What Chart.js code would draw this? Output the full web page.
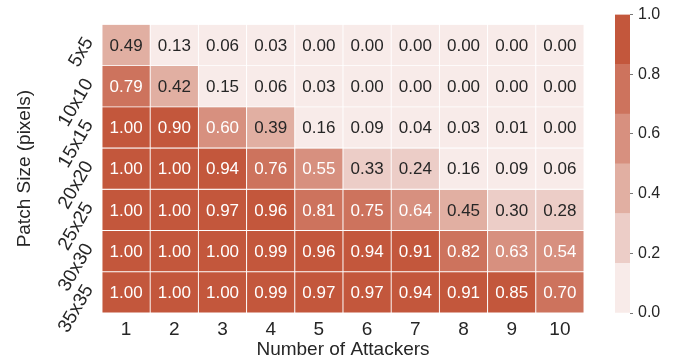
<!DOCTYPE html>
<html>
<head>
<meta charset="utf-8">
<script src="https://cdn.jsdelivr.net/npm/chart.js@4/dist/chart.umd.min.js"></script>
<style>
  html, body { margin: 0; padding: 0; background: #fff; }
  #wrap { position: relative; width: 680px; height: 362px; overflow: hidden; }
  #heat { position: absolute; left: 0; top: 0; }
  #cbar { position: absolute; left: 600px; top: 0; }
</style>
</head>
<body>
<div id="wrap">
  <canvas id="heat" width="600" height="362"></canvas>
  <canvas id="cbar" width="80" height="362"></canvas>
</div>
<script>
// Attack success rate by patch size (rows) and number of attackers (columns)
const attackers = ['1', '2', '3', '4', '5', '6', '7', '8', '9', '10'];
const patchSizes = ['5x5', '10x10', '15x15', '20x20', '25x25', '30x30', '35x35'];

const rate5x5   = [0.49, 0.13, 0.06, 0.03, 0.00, 0.00, 0.00, 0.00, 0.00, 0.00];
const rate10x10 = [0.79, 0.42, 0.15, 0.06, 0.03, 0.00, 0.00, 0.00, 0.00, 0.00];
const rate15x15 = [1.00, 0.90, 0.60, 0.39, 0.16, 0.09, 0.04, 0.03, 0.01, 0.00];
const rate20x20 = [1.00, 1.00, 0.94, 0.76, 0.55, 0.33, 0.24, 0.16, 0.09, 0.06];
const rate25x25 = [1.00, 1.00, 0.97, 0.96, 0.81, 0.75, 0.64, 0.45, 0.30, 0.28];
const rate30x30 = [1.00, 1.00, 1.00, 0.99, 0.96, 0.94, 0.91, 0.82, 0.63, 0.54];
const rate35x35 = [1.00, 1.00, 1.00, 0.99, 0.97, 0.97, 0.94, 0.91, 0.85, 0.70];

const rows = [rate5x5, rate10x10, rate15x15, rate20x20, rate25x25, rate30x30, rate35x35];

const colorbarTicks = [0.0, 0.2, 0.4, 0.6, 0.8, 1.0];

// Six-step sequential palette (light to dark)
const palette = ['#F8EBE9', '#ECCDC7', '#E1AFA2', '#D7907F', '#CD735D', '#C3573C'];
const nBins = palette.length;
const binOf = v => Math.min(nBins - 1, Math.floor(v * nBins));

const FONT = '"Liberation Sans", Arial, sans-serif';
const TEXT = '#262626';

// Writes each cell's value at the centre of its bar
const cellLabels = {
  id: 'cellLabels',
  afterDatasetsDraw(chart) {
    const ctx = chart.ctx;
    ctx.save();
    ctx.font = '17px ' + FONT;
    ctx.textAlign = 'center';
    ctx.textBaseline = 'middle';
    chart.data.datasets.forEach((ds, di) => {
      const meta = chart.getDatasetMeta(di);
      meta.data.forEach((el, ci) => {
        const v = ds.values[ci];
        ctx.fillStyle = binOf(v) >= 3 ? '#ffffff' : TEXT;
        ctx.fillText(v.toFixed(2), el.x, (el.y + el.base) / 2 + 1);
      });
    });
    ctx.restore();
  }
};

new Chart(document.getElementById('heat'), {
  type: 'bar',
  data: {
    labels: attackers,
    datasets: rows.map((vals, r) => ({
      label: patchSizes[r],
      values: vals,
      data: vals.map(() => [r, r + 1]),
      backgroundColor: vals.map(v => palette[binOf(v)]),
      borderColor: '#ffffff',
      borderWidth: 0.8,
      borderSkipped: false,
      barPercentage: 1,
      categoryPercentage: 1,
      grouped: false
    }))
  },
  options: {
    responsive: false,
    animation: false,
    devicePixelRatio: 1,
    layout: { padding: { top: 14, right: 16, left: 0, bottom: 0 } },
    plugins: { legend: { display: false }, tooltip: { enabled: false } },
    scales: {
      x: {
        type: 'category',
        grid: { display: false, drawTicks: false },
        border: { display: false },
        ticks: { color: TEXT, font: { family: FONT, size: 19 }, padding: 5, maxRotation: 0, autoSkip: false },
        title: { display: true, text: 'Number of Attackers', color: TEXT,
                 font: { family: FONT, size: 19 }, padding: { top: 0, bottom: 1 } },
        afterFit(s) { s.height = 49; }
      },
      y: {
        type: 'linear',
        min: 0,
        max: patchSizes.length,
        reverse: true,
        grid: { display: false, drawTicks: false },
        border: { display: false },
        afterBuildTicks(s) { s.ticks = patchSizes.map((_, i) => ({ value: i + 0.5 })); },
        ticks: {
          color: TEXT,
          font: { family: FONT, size: 19 },
          padding: 13,
          labelOffset: -6,
          minRotation: 60,
          maxRotation: 60,
          autoSkip: false,
          callback: (v, i) => patchSizes[i]
        },
        title: { display: true, text: 'Patch Size (pixels)', color: TEXT,
                 font: { family: FONT, size: 19 }, padding: { top: 13, bottom: 0 } },
        afterFit(s) { s.width = 102; }
      }
    }
  },
  plugins: [cellLabels]
});

// Colour bar: one floating bar per palette step
new Chart(document.getElementById('cbar'), {
  type: 'bar',
  data: {
    labels: [''],
    datasets: palette.map((c, i) => ({
      data: [[i / nBins, (i + 1) / nBins]],
      backgroundColor: c,
      borderWidth: 0,
      barPercentage: 1,
      categoryPercentage: 1,
      grouped: false
    }))
  },
  options: {
    responsive: false,
    animation: false,
    devicePixelRatio: 1,
    layout: { padding: { top: 14, bottom: 49, left: 15, right: 0 } },
    plugins: { legend: { display: false }, tooltip: { enabled: false } },
    scales: {
      x: { display: false },
      y: {
        type: 'linear',
        position: 'right',
        min: 0,
        max: 1,
        afterBuildTicks(s) { s.ticks = colorbarTicks.map(v => ({ value: v })); },
        grid: { drawOnChartArea: false, drawTicks: true, tickLength: 3, color: '#777777', lineWidth: 1 },
        border: { display: false },
        ticks: { color: TEXT, font: { family: FONT, size: 16 }, padding: 5, autoSkip: false,
                 callback: v => Number(v).toFixed(1) },
        afterFit(s) { s.width = 50; }
      }
    }
  }
});
</script>
</body>
</html>
